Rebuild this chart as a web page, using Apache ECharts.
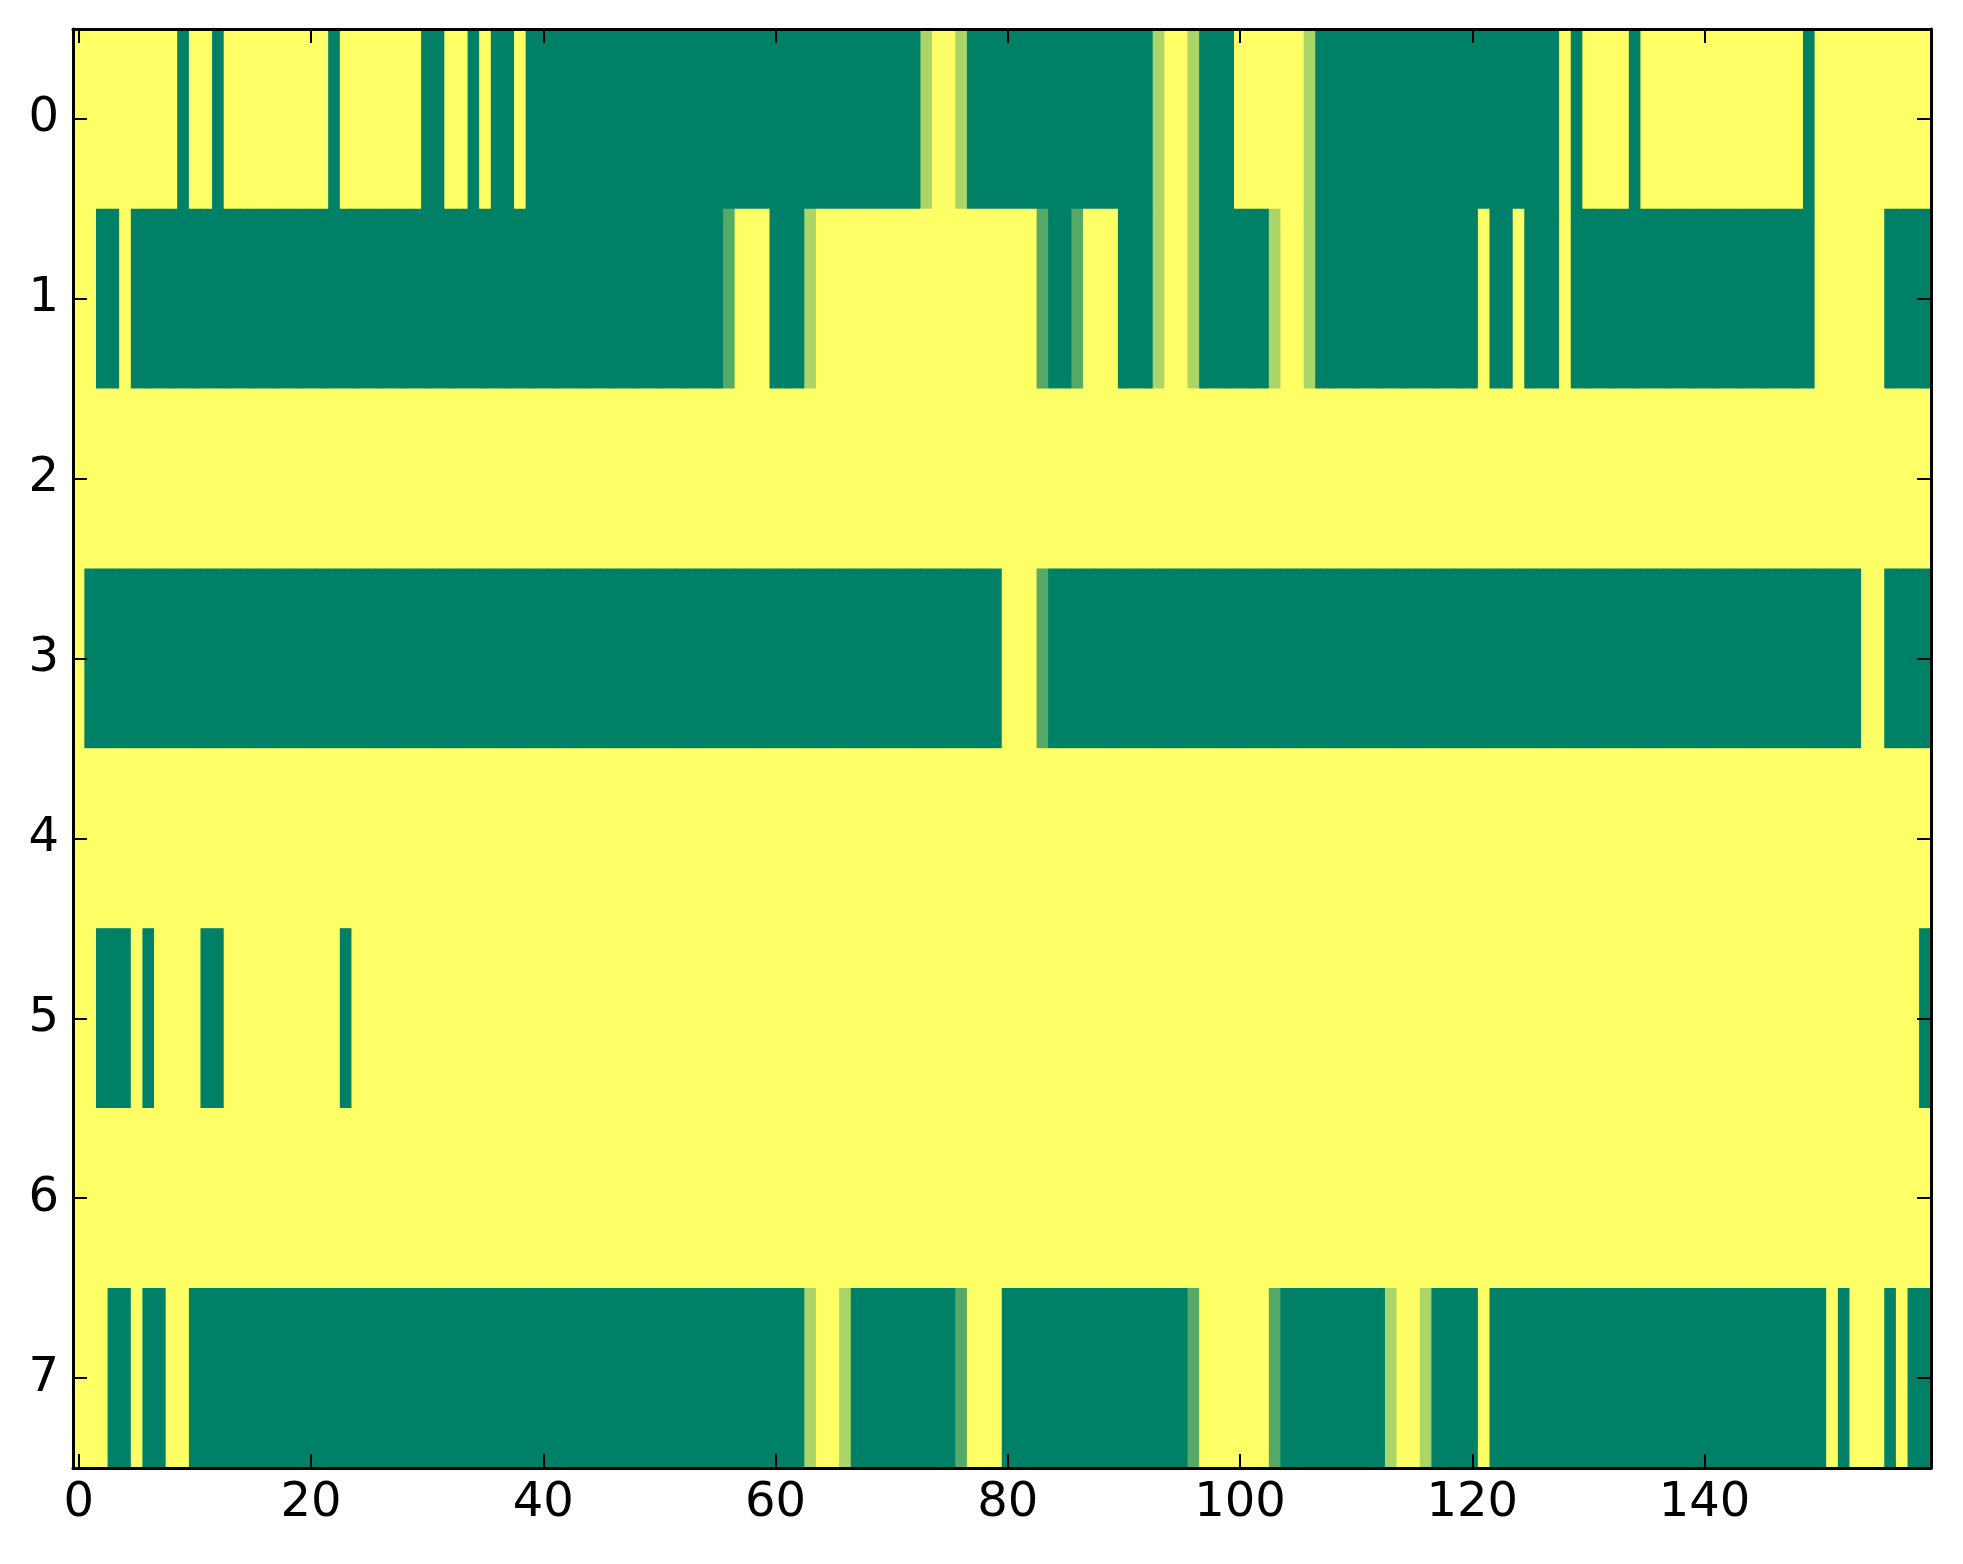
<!DOCTYPE html>
<html>
<head>
<meta charset="utf-8">
<script src="https://cdn.jsdelivr.net/npm/echarts@6/dist/echarts.min.js"></script>
<style>
html,body{margin:0;padding:0;background:#fff;}
#chart{width:1963px;height:1564px;}
</style>
</head>
<body>
<div id="chart"></div>
<script>
// column indices 0..159 and row labels 0..7
var columns = [];
for (var i = 0; i < 160; i++) columns.push(String(i));
var rowLabels = ['0','1','2','3','4','5','6','7'];

// cell values (0 = dark green, 1 = yellow), read column by column
var row0 = [
1,1,1,1,1,1,1,1,1,0, 1,1,0,1,1,1,1,1,1,1, 1,1,0,1,1,1,1,1,1,1, 0,0,1,1,0,1,0,0,1,0,
0,0,0,0,0,0,0,0,0,0, 0,0,0,0,0,0,0,0,0,0, 0,0,0,0,0,0,0,0,0,0, 0,0,0,0.67,1,1,0.67,0,0,0,
0,0,0,0,0,0,0,0,0,0, 0,0,0,0.67,1,1,0.67,0,0,0, 1,1,1,1,1,1,0.67,0,0,0, 0,0,0,0,0,0,0,0,0,0,
0,0,0,0,0,0,0,0,1,0, 1,1,1,1,0,1,1,1,1,1, 1,1,1,1,1,1,1,1,1,0, 1,1,1,1,1,1,1,1,1,1
];
var row1 = [
1,1,0,0,1,0,0,0,0,0, 0,0,0,0,0,0,0,0,0,0, 0,0,0,0,0,0,0,0,0,0, 0,0,0,0,0,0,0,0,0,0,
0,0,0,0,0,0,0,0,0,0, 0,0,0,0,0,0,0.33,1,1,1, 0,0,0,0.67,1,1,1,1,1,1, 1,1,1,1,1,1,1,1,1,1,
1,1,1,0.33,0,0,0.33,1,1,1, 0,0,0,0.67,1,1,0.67,0,0,0, 0,0,0,0.67,1,1,0.67,0,0,0, 0,0,0,0,0,0,0,0,0,0,
0,1,0,0,1,0,0,0,1,0, 0,0,0,0,0,0,0,0,0,0, 0,0,0,0,0,0,0,0,0,0, 1,1,1,1,1,1,0,0,0,0
];
var row2 = [
1,1,1,1,1,1,1,1,1,1, 1,1,1,1,1,1,1,1,1,1, 1,1,1,1,1,1,1,1,1,1, 1,1,1,1,1,1,1,1,1,1,
1,1,1,1,1,1,1,1,1,1, 1,1,1,1,1,1,1,1,1,1, 1,1,1,1,1,1,1,1,1,1, 1,1,1,1,1,1,1,1,1,1,
1,1,1,1,1,1,1,1,1,1, 1,1,1,1,1,1,1,1,1,1, 1,1,1,1,1,1,1,1,1,1, 1,1,1,1,1,1,1,1,1,1,
1,1,1,1,1,1,1,1,1,1, 1,1,1,1,1,1,1,1,1,1, 1,1,1,1,1,1,1,1,1,1, 1,1,1,1,1,1,1,1,1,1
];
var row3 = [
1,0,0,0,0,0,0,0,0,0, 0,0,0,0,0,0,0,0,0,0, 0,0,0,0,0,0,0,0,0,0, 0,0,0,0,0,0,0,0,0,0,
0,0,0,0,0,0,0,0,0,0, 0,0,0,0,0,0,0,0,0,0, 0,0,0,0,0,0,0,0,0,0, 0,0,0,0,0,0,0,0,0,0,
1,1,1,0.33,0,0,0,0,0,0, 0,0,0,0,0,0,0,0,0,0, 0,0,0,0,0,0,0,0,0,0, 0,0,0,0,0,0,0,0,0,0,
0,0,0,0,0,0,0,0,0,0, 0,0,0,0,0,0,0,0,0,0, 0,0,0,0,0,0,0,0,0,0, 0,0,0,0,1,1,0,0,0,0
];
var row4 = [
1,1,1,1,1,1,1,1,1,1, 1,1,1,1,1,1,1,1,1,1, 1,1,1,1,1,1,1,1,1,1, 1,1,1,1,1,1,1,1,1,1,
1,1,1,1,1,1,1,1,1,1, 1,1,1,1,1,1,1,1,1,1, 1,1,1,1,1,1,1,1,1,1, 1,1,1,1,1,1,1,1,1,1,
1,1,1,1,1,1,1,1,1,1, 1,1,1,1,1,1,1,1,1,1, 1,1,1,1,1,1,1,1,1,1, 1,1,1,1,1,1,1,1,1,1,
1,1,1,1,1,1,1,1,1,1, 1,1,1,1,1,1,1,1,1,1, 1,1,1,1,1,1,1,1,1,1, 1,1,1,1,1,1,1,1,1,1
];
var row5 = [
1,1,0,0,0,1,0,1,1,1, 1,0,0,1,1,1,1,1,1,1, 1,1,1,0,1,1,1,1,1,1, 1,1,1,1,1,1,1,1,1,1,
1,1,1,1,1,1,1,1,1,1, 1,1,1,1,1,1,1,1,1,1, 1,1,1,1,1,1,1,1,1,1, 1,1,1,1,1,1,1,1,1,1,
1,1,1,1,1,1,1,1,1,1, 1,1,1,1,1,1,1,1,1,1, 1,1,1,1,1,1,1,1,1,1, 1,1,1,1,1,1,1,1,1,1,
1,1,1,1,1,1,1,1,1,1, 1,1,1,1,1,1,1,1,1,1, 1,1,1,1,1,1,1,1,1,1, 1,1,1,1,1,1,1,1,1,0
];
var row6 = [
1,1,1,1,1,1,1,1,1,1, 1,1,1,1,1,1,1,1,1,1, 1,1,1,1,1,1,1,1,1,1, 1,1,1,1,1,1,1,1,1,1,
1,1,1,1,1,1,1,1,1,1, 1,1,1,1,1,1,1,1,1,1, 1,1,1,1,1,1,1,1,1,1, 1,1,1,1,1,1,1,1,1,1,
1,1,1,1,1,1,1,1,1,1, 1,1,1,1,1,1,1,1,1,1, 1,1,1,1,1,1,1,1,1,1, 1,1,1,1,1,1,1,1,1,1,
1,1,1,1,1,1,1,1,1,1, 1,1,1,1,1,1,1,1,1,1, 1,1,1,1,1,1,1,1,1,1, 1,1,1,1,1,1,1,1,1,1
];
var row7 = [
1,1,1,0,0,1,0,0,1,1, 0,0,0,0,0,0,0,0,0,0, 0,0,0,0,0,0,0,0,0,0, 0,0,0,0,0,0,0,0,0,0,
0,0,0,0,0,0,0,0,0,0, 0,0,0,0,0,0,0,0,0,0, 0,0,0,0.67,1,1,0.67,0,0,0, 0,0,0,0,0,0,0.33,1,1,1,
0,0,0,0,0,0,0,0,0,0, 0,0,0,0,0,0,0.33,1,1,1, 1,1,1,0.33,0,0,0,0,0,0, 0,0,0,0.67,1,1,0.67,0,0,0,
0,1,0,0,0,0,0,0,0,0, 0,0,0,0,0,0,0,0,0,0, 0,0,0,0,0,0,0,0,0,0, 0,1,0,1,1,1,0,1,0,0
];
var rows = [row0, row1, row2, row3, row4, row5, row6, row7];

var cells = [];
for (var r = 0; r < rows.length; r++) {
  for (var c = 0; c < rows[r].length; c++) {
    cells.push([c, r, rows[r][c]]);
  }
}

var FONT = 'DejaVu Sans';
var xTickEvery = function (idx) { return idx % 20 === 0; };
var lineCommon = { show: true, onZero: false, lineStyle: { color: '#000', width: 3 } };
var tickCommon = { show: true, inside: true, length: 14, alignWithLabel: true, lineStyle: { color: '#000', width: 2 } };

function heatLayer() {
  return {
    type: 'heatmap',
    xAxisIndex: 0, yAxisIndex: 0,
    data: cells,
    progressive: 0,
    itemStyle: { borderWidth: 0 },
    emphasis: { disabled: true },
    silent: true
  };
}

var chart = echarts.init(document.getElementById('chart'), null, { renderer: 'canvas' });
chart.setOption({
  animation: false,
  backgroundColor: '#ffffff',
  grid: { left: 73, right: 32, top: 29, bottom: 96, containLabel: false },
  visualMap: {
    show: false, type: 'continuous', min: 0, max: 1, dimension: 2, seriesIndex: [0, 1, 2],
    inRange: { color: ['#008066', '#ffff66'] }
  },
  xAxis: [
    {
      type: 'category', data: columns, position: 'bottom', boundaryGap: true, z: 10,
      axisLine: lineCommon,
      axisTick: Object.assign({}, tickCommon, { interval: xTickEvery }),
      axisLabel: { interval: xTickEvery, fontFamily: FONT, fontSize: 48, color: '#000', margin: 12 },
      splitLine: { show: false }
    },
    {
      type: 'category', data: columns, position: 'top', boundaryGap: true, z: 10,
      axisLine: lineCommon,
      axisTick: Object.assign({}, tickCommon, { interval: xTickEvery }),
      axisLabel: { show: false },
      splitLine: { show: false }
    }
  ],
  yAxis: [
    {
      type: 'category', data: rowLabels, position: 'left', inverse: true, boundaryGap: true, z: 10,
      axisLine: lineCommon,
      axisTick: Object.assign({}, tickCommon, { interval: 0 }),
      axisLabel: { interval: 0, fontFamily: FONT, fontSize: 48, color: '#000', margin: 14 },
      splitLine: { show: false }
    },
    {
      type: 'category', data: rowLabels, position: 'right', inverse: true, boundaryGap: true, z: 10,
      axisLine: lineCommon,
      axisTick: Object.assign({}, tickCommon, { interval: 0 }),
      axisLabel: { show: false },
      splitLine: { show: false }
    }
  ],
  // the same cells drawn in three stacked layers so anti-aliased seams between
  // neighbouring cells do not let the white background show through
  series: [heatLayer(), heatLayer(), heatLayer()]
});
</script>
</body>
</html>
